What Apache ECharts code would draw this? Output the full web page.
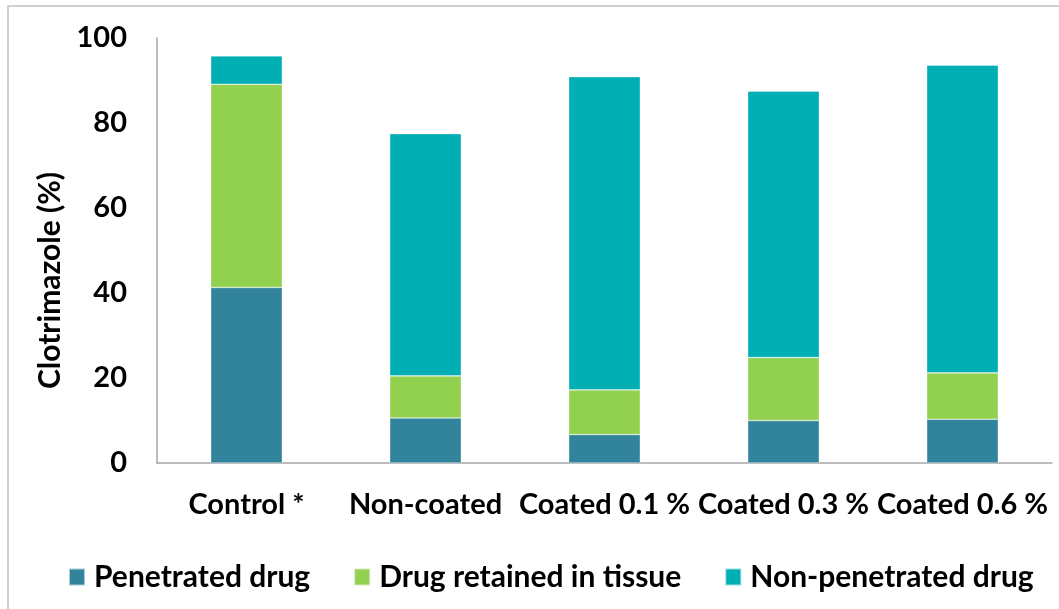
<!DOCTYPE html>
<html>
<head>
<meta charset="utf-8">
<script src="https://cdn.jsdelivr.net/npm/echarts@6/dist/echarts.min.js"></script>
<style>
  html, body { margin: 0; padding: 0; background: #fff; }
  #frame { position: absolute; left: 7px; top: 5px; width: 1052px; height: 604px;
           border-left: 2px solid #d0d0d0; border-top: 2px solid #d0d0d0; box-sizing: border-box; }
  #chart { position: absolute; left: 0; top: 0; width: 1059px; height: 609px; }
</style>
</head>
<body>
<div id="frame"></div>
<div id="chart"></div>
<script>
// Formulations tested
const categories = ['Control *', 'Non-coated', 'Coated 0.1 %', 'Coated 0.3 %', 'Coated 0.6 %'];

// Clotrimazole distribution (%), stacked per formulation
const penetrated = [41.3, 10.6, 6.7, 10.0, 10.3];
const retained = [47.8, 9.9, 10.5, 14.8, 10.9];
const nonPenetrated = [6.7, 57.0, 73.7, 62.7, 72.4];

const seriesNames = ['Penetrated drug', 'Drug retained in tissue', 'Non-penetrated drug'];
const colors = ['#31849B', '#92D050', '#00AFB3'];

const font = 'Lato, "Open Sans", sans-serif';

const chart = echarts.init(document.getElementById('chart'), null, { renderer: 'canvas' });

const barSeries = [penetrated, retained, nonPenetrated].map((vals, i) => ({
  name: seriesNames[i],
  type: 'bar',
  stack: 'total',
  data: vals,
  barWidth: '40%',
  itemStyle: { color: colors[i], borderColor: 'rgba(255,255,255,0.6)', borderWidth: 0.6 },
  emphasis: { disabled: true }
}));

chart.setOption({
  animation: false,
  backgroundColor: 'transparent',
  textStyle: { fontFamily: font },
  grid: { left: 157, right: 7, top: 38, bottom: 146, containLabel: false },
  legend: {
    data: seriesNames,
    left: 63,
    top: 557,
    itemWidth: 16,
    itemHeight: 17,
    itemGap: 43,
    icon: 'rect',
    textStyle: { fontFamily: font, fontSize: 30, fontWeight: 'bold', color: '#000', padding: [0, 0, 0, 4] }
  },
  xAxis: {
    type: 'category',
    data: categories,
    axisLine: { lineStyle: { color: '#A6A6A6', width: 1.5 } },
    axisTick: { show: false },
    axisLabel: {
      interval: 0, hideOverlap: false,
      fontFamily: font, fontSize: 29, fontWeight: 'bold', color: '#000', margin: 27
    }
  },
  yAxis: {
    type: 'value',
    min: 0,
    max: 100,
    interval: 20,
    name: 'Clotrimazole (%)',
    nameLocation: 'middle',
    nameGap: 86,
    nameTextStyle: {
      fontFamily: font, fontSize: 30, fontWeight: 'bold', color: '#000',
      padding: [0, 60, 0, 0]
    },
    axisLine: { show: true, lineStyle: { color: '#A6A6A6', width: 1.5 } },
    axisTick: { show: false },
    splitLine: { show: false },
    axisLabel: { fontFamily: font, fontSize: 29, fontWeight: 'bold', color: '#000', margin: 30 }
  },
  series: barSeries
});
</script>
</body>
</html>
